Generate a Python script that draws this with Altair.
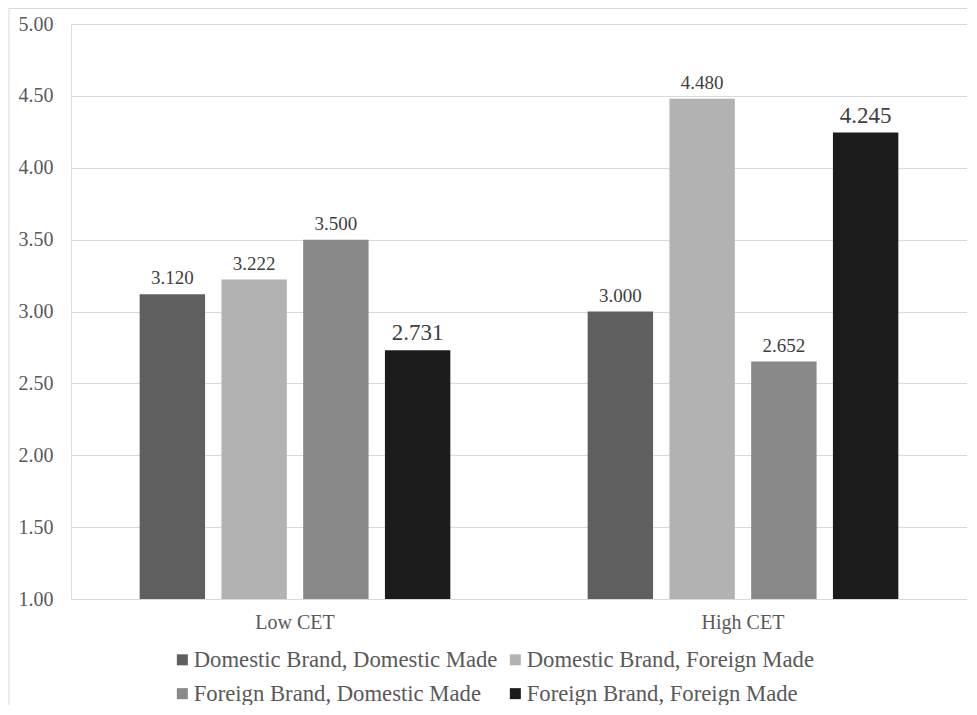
import altair as alt
import pandas as pd

groups = ["Low CET", "High CET"]
series = [
    "Domestic Brand, Domestic Made",
    "Domestic Brand, Foreign Made",
    "Foreign Brand, Domestic Made",
    "Foreign Brand, Foreign Made",
]
low_values = [3.120, 3.222, 3.500, 2.731]
high_values = [3.000, 4.480, 2.652, 4.245]
colors = ["#5f5f5f", "#b2b2b2", "#898989", "#1c1c1c"]
y_ticks = [1.0, 1.5, 2.0, 2.5, 3.0, 3.5, 4.0, 4.5, 5.0]

rows = []
for g, vals in zip(groups, [low_values, high_values]):
    for s, v in zip(series, vals):
        rows.append({"group": g, "series": s, "value": v})
df = pd.DataFrame(rows)

FONT = "Liberation Serif, Times New Roman, serif"

x_enc = alt.X(
    "group:N",
    sort=groups,
    title=None,
    scale=alt.Scale(paddingInner=0.27, paddingOuter=0.135),
    axis=alt.Axis(
        labelAngle=0, labelFont=FONT, labelFontSize=20, labelColor="#595959",
        ticks=False, labelPadding=13, domainColor="#d9d9d9", domainWidth=1,
        grid=False,
    ),
)
xoff_enc = alt.XOffset(
    "series:N", sort=series,
    scale=alt.Scale(paddingInner=0.2, paddingOuter=0.1),
)
y_scale = alt.Scale(domain=[1, 5], zero=False, nice=False)

base = alt.Chart(df)

bars = base.mark_bar().encode(
    x=x_enc,
    xOffset=xoff_enc,
    y=alt.Y(
        "value:Q", scale=y_scale, title=None,
        axis=alt.Axis(
            values=y_ticks, format=".2f", labelFont=FONT, labelFontSize=20,
            labelColor="#595959", ticks=False, domain=False, labelPadding=18,
            gridColor="#d9d9d9", gridWidth=1,
        ),
    ),
    y2=alt.datum(1),
    color=alt.Color(
        "series:N", sort=series,
        scale=alt.Scale(domain=series, range=colors),
        legend=alt.Legend(
            title=None, orient="none", legendX=100, legendY=624, columns=2,
            direction="horizontal",
            symbolType="square", symbolSize=121, symbolStrokeWidth=0,
            labelFont=FONT, labelFontSize=22.7, labelColor="#595959",
            labelOffset=0, columnPadding=6, rowPadding=10.3, padding=0,
            labelLimit=0,
        ),
    ),
)

labels = base.mark_text(font=FONT, color="#404040", baseline="alphabetic", dy=-10).encode(
    x=alt.X("group:N", sort=groups),
    xOffset=alt.XOffset("series:N", sort=series),
    y=alt.Y("value:Q", scale=y_scale),
    text=alt.Text("value:Q", format=".3f"),
    size=alt.condition(
        alt.datum.series == "Foreign Brand, Foreign Made", alt.value(23), alt.value(19)
    ),
)

frame_df = pd.DataFrame({"a": [0]})
frame_left = alt.Chart(frame_df).mark_rule(color="#d9d9d9", strokeWidth=1).encode(
    x=alt.value(-62), y=alt.value(-16), y2=alt.value(710)
)
frame_top = alt.Chart(frame_df).mark_rule(color="#d9d9d9", strokeWidth=1).encode(
    x=alt.value(-62), x2=alt.value(900), y=alt.value(-15.5)
)

chart = alt.layer(bars, labels, frame_left, frame_top).properties(
    width=896,
    height=575,
    autosize=alt.AutoSizeParams(type="none"),
    padding={"left": 63, "top": 16, "right": 0, "bottom": 106},
).configure_view(stroke=None).configure(background="white", font=FONT)

chart.save("out.html", embed_options={"renderer": "svg", "actions": False})
